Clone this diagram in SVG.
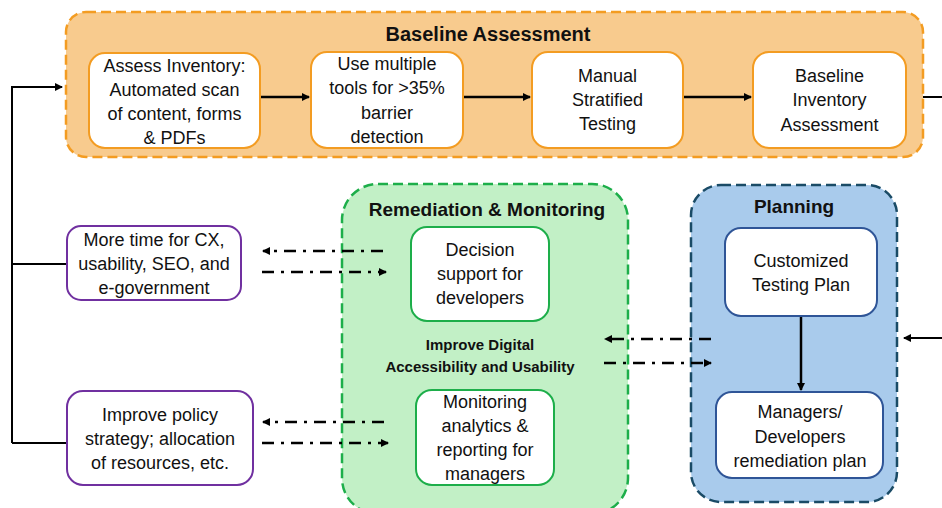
<svg xmlns="http://www.w3.org/2000/svg" width="942" height="508" viewBox="0 0 942 508">
<defs>
<marker id="ah" markerWidth="8" markerHeight="8" refX="7" refY="4" orient="auto" markerUnits="userSpaceOnUse"><path d="M0,0 L8,4 L0,8 Z" fill="#000"/></marker>
<marker id="ahs" markerWidth="10" markerHeight="10" refX="9" refY="5" orient="auto" markerUnits="userSpaceOnUse"><path d="M0,0.5 L10,5 L0,9.5 Z" fill="#000"/></marker>
<style>
text{font-family:"Liberation Sans",Arial,sans-serif;fill:#111;text-anchor:middle}
.b{font-size:18px}
.t{font-size:20px;font-weight:bold}
.t2{font-size:19px;font-weight:bold}
.m{font-size:15px;font-weight:bold}
.og{fill:#F8CB8E;stroke:#F39C22;stroke-width:2.5;stroke-dasharray:10 5}
.gg{fill:#C2F0C6;stroke:#1DAE4A;stroke-width:2.5;stroke-dasharray:10 5}
.bg{fill:#A9CBEC;stroke:#1A4B66;stroke-width:2.5;stroke-dasharray:10 5}
.on{fill:#fff;stroke:#F39C22;stroke-width:2}
.gn{fill:#fff;stroke:#1DAE4A;stroke-width:2}
.bn{fill:#fff;stroke:#2F5597;stroke-width:2}
.pn{fill:#fff;stroke:#7030A0;stroke-width:2}
.s{fill:none;stroke:#000;stroke-width:2.5}
.l{fill:none;stroke:#000;stroke-width:2}
.dd{fill:none;stroke:#000;stroke-width:2.5;stroke-dasharray:12 7 3 7}
</style>
</defs>
<rect width="942" height="508" fill="#fff"/>
<g id="baseline-assessment">
<rect class="og" x="66" y="12" width="857" height="145" rx="20"/>
<text class="t" x="488" y="41">Baseline Assessment</text>
</g>
<g id="remediation-monitoring">
<rect class="gg" x="342" y="184" width="286" height="330" rx="36"/>
<text class="t2" x="487" y="216">Remediation &amp; Monitoring</text>
<text class="m" x="480" y="350">Improve Digital</text>
<text class="m" x="480" y="372">Accessibility and Usability</text>
</g>
<g id="planning">
<rect class="bg" x="691" y="185" width="206" height="317" rx="30"/>
<text class="t2" x="794" y="213">Planning</text>
</g>
<g id="connectors">
<path class="l" d="M12,443 L12,87 L62,87" marker-end="url(#ah)"/>
<path class="l" d="M12,264 L67,264"/>
<path class="l" d="M12,443 L67,443"/>
<path class="s" d="M260,97 L309,97" marker-end="url(#ah)"/>
<path class="s" d="M463,97 L530,97" marker-end="url(#ah)"/>
<path class="s" d="M683,97 L751,97" marker-end="url(#ah)"/>
<path class="l" d="M923,97 L942,97"/>
<path class="s" d="M801,316 L801,390" marker-end="url(#ah)"/>
<path class="l" d="M942,338 L904,338" marker-end="url(#ah)"/>
<path class="dd" d="M383,251 L263,251" marker-end="url(#ah)"/>
<path class="dd" d="M262,272 L386,272" marker-end="url(#ah)"/>
<path class="dd" d="M384,422 L263,422" marker-end="url(#ah)"/>
<path class="dd" d="M262,443 L388,443" marker-end="url(#ah)"/>
<path class="dd" d="M711,339 L605,339" marker-end="url(#ah)"/>
<path class="dd" d="M604,363 L711,363" marker-end="url(#ah)"/>
</g>
<g id="assess-inventory">
<rect class="on" x="89" y="53" width="171" height="95" rx="16"/>
<text class="b" x="174.5" y="72">Assess Inventory:</text>
<text class="b" x="174.5" y="96">Automated scan</text>
<text class="b" x="174.5" y="120">of content, forms</text>
<text class="b" x="174.5" y="144">&amp; PDFs</text>
</g>
<g id="multiple-tools">
<rect class="on" x="311" y="52" width="152" height="96" rx="16"/>
<text class="b" x="387" y="70">Use multiple</text>
<text class="b" x="387" y="94">tools for &gt;35%</text>
<text class="b" x="387" y="119">barrier</text>
<text class="b" x="387" y="143">detection</text>
</g>
<g id="manual-testing">
<rect class="on" x="532" y="52" width="151" height="96" rx="16"/>
<text class="b" x="607.5" y="82">Manual</text>
<text class="b" x="607.5" y="106">Stratified</text>
<text class="b" x="607.5" y="130">Testing</text>
</g>
<g id="baseline-inventory">
<rect class="on" x="753" y="52" width="153" height="96" rx="16"/>
<text class="b" x="829.5" y="82">Baseline</text>
<text class="b" x="829.5" y="106">Inventory</text>
<text class="b" x="829.5" y="131">Assessment</text>
</g>
<g id="more-time">
<rect class="pn" x="67" y="226" width="174" height="74" rx="14"/>
<text class="b" x="154" y="246">More time for CX,</text>
<text class="b" x="154" y="270">usability, SEO, and</text>
<text class="b" x="154" y="294">e-government</text>
</g>
<g id="improve-policy">
<rect class="pn" x="67" y="391" width="186" height="94" rx="16"/>
<text class="b" x="160" y="421">Improve policy</text>
<text class="b" x="160" y="445">strategy; allocation</text>
<text class="b" x="160" y="469">of resources, etc.</text>
</g>
<g id="decision-support">
<rect class="gn" x="411" y="227" width="138" height="94" rx="16"/>
<text class="b" x="480" y="256">Decision</text>
<text class="b" x="480" y="280">support for</text>
<text class="b" x="480" y="304">developers</text>
</g>
<g id="monitoring-analytics">
<rect class="gn" x="416" y="390" width="138" height="95" rx="16"/>
<text class="b" x="485" y="408">Monitoring</text>
<text class="b" x="485" y="432">analytics &amp;</text>
<text class="b" x="485" y="456">reporting for</text>
<text class="b" x="485" y="480">managers</text>
</g>
<g id="customized-plan">
<rect class="bn" x="725" y="228" width="152" height="88" rx="16"/>
<text class="b" x="801" y="267">Customized</text>
<text class="b" x="801" y="291">Testing Plan</text>
</g>
<g id="remediation-plan">
<rect class="bn" x="716" y="392" width="167" height="86" rx="16"/>
<text class="b" x="800" y="418">Managers/</text>
<text class="b" x="800" y="443">Developers</text>
<text class="b" x="800" y="467">remediation plan</text>
</g>
</svg>
